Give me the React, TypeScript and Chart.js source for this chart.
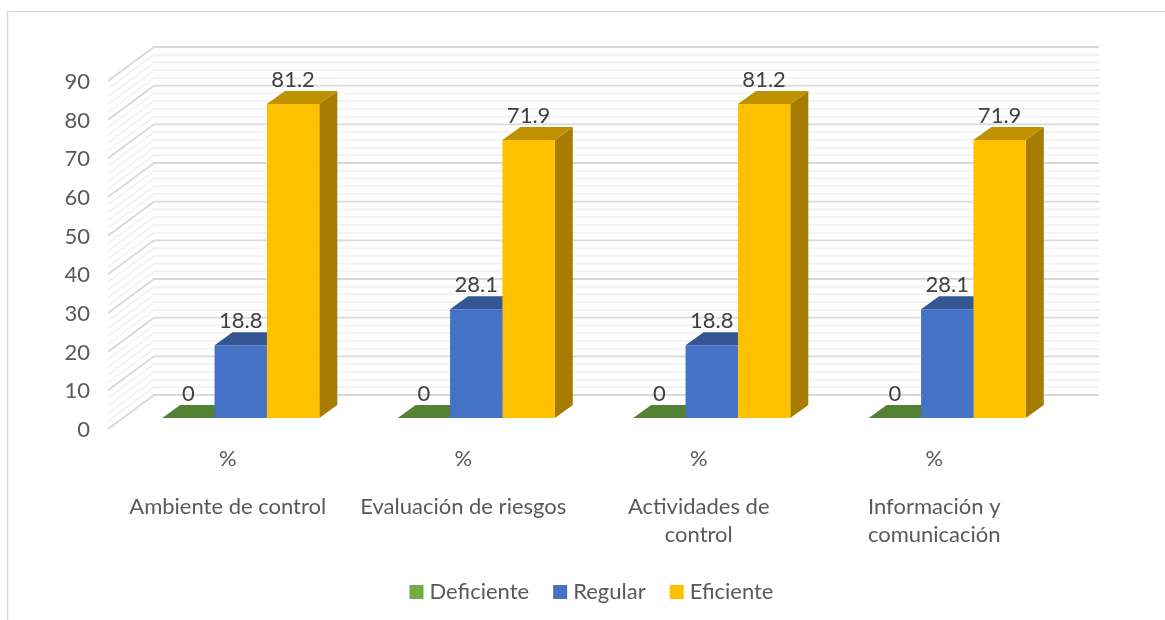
import React, { useEffect, useRef } from "react";
import { Chart, registerables } from "chart.js";

Chart.register(...registerables);

const categories = [
  ["Ambiente de control"],
  ["Evaluación de riesgos"],
  ["Actividades de", "control"],
  ["Información y", "comunicación"],
];
const subLabel = "%";
const deficiente = [0, 0, 0, 0];
const regular = [18.8, 28.1, 18.8, 28.1];
const eficiente = [81.2, 71.9, 81.2, 71.9];
const gridValues = [0, 2, 4, 6, 8, 10, 12, 14, 16, 18, 20, 22, 24, 26, 28, 30, 32, 34, 36, 38, 40, 42, 44, 46, 48, 50, 52, 54, 56, 58, 60, 62, 64, 66, 68, 70, 72, 74, 76, 78, 80, 82, 84, 86, 88, 90];

const FONT = "Lato";
const WALL_DX = 46;
const WALL_BACK_DY = 23;
const WALL_FRONT_DY = 11;
const WALL_FRONT_DX = 15;
const BAR_DX = 18;
const BAR_DY = 13;

const shade: Record<string, { top: string; side: string }> = {
  Deficiente: { top: "#548235", side: "#43682B" },
  Regular: { top: "#335593", side: "#264478" },
  Eficiente: { top: "#BF9000", side: "#A67D00" },
};

const poly = (ctx: CanvasRenderingContext2D, pts: number[][], fill: string) => {
  ctx.beginPath();
  pts.forEach(([x, y], i) => (i ? ctx.lineTo(x, y) : ctx.moveTo(x, y)));
  ctx.closePath();
  ctx.fillStyle = fill;
  ctx.fill();
};

const frame3d = {
  id: "frame3d",
  beforeDraw(chart: any) {
    const { ctx, chartArea, scales } = chart;
    ctx.save();
    ctx.fillStyle = "#ffffff";
    ctx.fillRect(0, 0, chart.width, chart.height);
    ctx.strokeStyle = "#D9D9D9";
    ctx.lineWidth = 1.5;
    ctx.beginPath();
    ctx.moveTo(7.5, 620);
    ctx.lineTo(7.5, 11.5);
    ctx.lineTo(1165, 11.5);
    ctx.stroke();
    const left = chartArea.left - WALL_FRONT_DX;
    const backLeft = left + WALL_DX;
    const backRight = chartArea.right + 34;
    for (const pass of [0, 1]) {
      for (const v of gridValues) {
        const major = v % 10 === 0;
        if ((pass === 1) !== major) continue;
        const y = scales.y.getPixelForValue(v);
        ctx.strokeStyle = major ? "#D9D9D9" : "#F2F2F2";
        ctx.lineWidth = 1.8;
        ctx.beginPath();
        ctx.moveTo(left, y + WALL_FRONT_DY);
        ctx.lineTo(backLeft, y - WALL_BACK_DY);
        ctx.lineTo(backRight, y - WALL_BACK_DY);
        ctx.stroke();
      }
    }
    ctx.restore();
  },
  beforeDatasetsDraw(chart: any) {
    const { ctx } = chart;
    ctx.save();
    chart.data.datasets.forEach((ds: any, i: number) => {
      const c = shade[ds.label];
      chart.getDatasetMeta(i).data.forEach((bar: any) => {
        const { x, y, base, width } = bar.getProps(["x", "y", "base", "width"]);
        const l = x - width / 2;
        const r = x + width / 2;
        if (base - y > 0.5) {
          poly(ctx, [[r, y], [r + BAR_DX, y - BAR_DY], [r + BAR_DX, base - BAR_DY], [r, base]], c.side);
        }
        poly(ctx, [[l, y], [l + BAR_DX, y - BAR_DY], [r + BAR_DX, y - BAR_DY], [r, y]], c.top);
      });
    });
    ctx.restore();
  },
  afterDatasetsDraw(chart: any) {
    const { ctx } = chart;
    ctx.save();
    ctx.font = `22px ${FONT}`;
    ctx.fillStyle = "#404040";
    ctx.textAlign = "center";
    ctx.textBaseline = "middle";
    chart.data.datasets.forEach((ds: any, i: number) => {
      chart.getDatasetMeta(i).data.forEach((bar: any, j: number) => {
        const { x, y } = bar.getProps(["x", "y"]);
        ctx.fillText(String(ds.data[j]), x, y - 24);
      });
    });
    ctx.restore();
  },
};

export default function App() {
  const ref = useRef<HTMLCanvasElement>(null);
  useEffect(() => {
    const chart = new Chart(ref.current as HTMLCanvasElement, {
      type: "bar",
      data: {
        labels: categories.map((c) => c.join(" ")),
        datasets: [
          { label: "Deficiente", data: deficiente, backgroundColor: "#70AD47", pointStyle: "rect" },
          { label: "Regular", data: regular, backgroundColor: "#4472C4", pointStyle: "rect" },
          { label: "Eficiente", data: eficiente, backgroundColor: "#FFC000", pointStyle: "rect" },
        ],
      },
      options: {
        animation: false,
        responsive: false,
        layout: { padding: { top: 70, right: 100, left: 0, bottom: 7 } },
        datasets: { bar: { barPercentage: 1, categoryPercentage: 0.667 } },
        scales: {
          y: {
            min: 0,
            max: 90,
            grid: { display: false },
            border: { display: false },
            afterFit: (axis: any) => {
              axis.width = 123;
            },
            ticks: {
              stepSize: 10,
              padding: 25,
              labelOffset: 12,
              color: "#595959",
              font: { family: FONT, size: 22 },
            },
          },
          x: {
            type: "category",
            offset: true,
            grid: { display: false },
            border: { display: false },
            afterFit: (axis: any) => {
              axis.height = 60;
            },
            ticks: {
              padding: 20,
              labelOffset: -13,
              color: "#595959",
              maxRotation: 0,
              autoSkip: false,
              callback: () => subLabel,
              font: { family: FONT, size: 22 },
            },
          },
          x2: {
            type: "category",
            position: "bottom",
            offset: true,
            grid: { display: false },
            border: { display: false },
            afterFit: (axis: any) => {
              axis.height = 74;
            },
            ticks: {
              padding: 7,
              labelOffset: -13,
              color: "#595959",
              maxRotation: 0,
              autoSkip: false,
              callback: (_v: any, i: number) => categories[i],
              font: { family: FONT, size: 22, lineHeight: 1.27 },
            },
          },
        },
        plugins: {
          tooltip: { enabled: false },
          legend: {
            position: "bottom",
            fullSize: false,
            labels: {
              usePointStyle: true,
              boxWidth: 4,
              boxHeight: 14,
              padding: 29,
              color: "#595959",
              font: { family: FONT, size: 22 },
            },
          },
        },
      } as any,
      plugins: [frame3d],
    });
    return () => chart.destroy();
  }, []);
  return (
    <div style={{ position: "fixed", left: 0, top: 0, width: 1165, height: 620 }}>
      <canvas ref={ref} width={1165} height={620} style={{ display: "block" }} />
    </div>
  );
}
